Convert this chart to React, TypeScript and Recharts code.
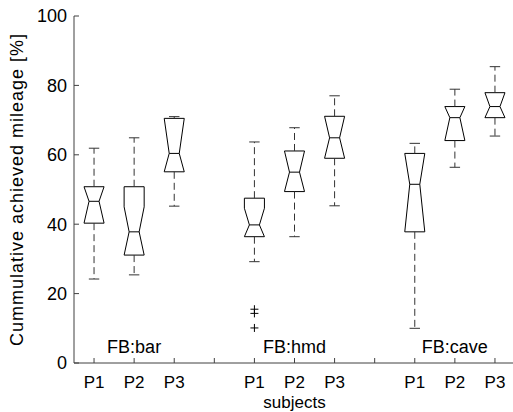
import React from 'react';
import { ComposedChart, XAxis, YAxis, Scatter, Label } from 'recharts';

// boxes: FB:bar P1-P3, FB:hmd P1-P3, FB:cave P1-P3
const groups = ['FB:bar', 'FB:hmd', 'FB:cave'];
const groupPos = [2, 6, 10];
const subjects = ['P1', 'P2', 'P3', 'P1', 'P2', 'P3', 'P1', 'P2', 'P3'];
const positions = [1, 2, 3, 5, 6, 7, 9, 10, 11];
const whiskerHigh = [61.9, 64.9, 71.0, 63.7, 67.8, 77.0, 63.3, 78.9, 85.4];
const q3 = [50.8, 50.8, 70.5, 47.5, 61.1, 71.1, 60.4, 73.9, 77.9];
const notchHigh = [50.8, 45.0, 70.5, 44.6, 61.1, 71.1, 60.4, 73.9, 77.9];
const median = [46.6, 37.8, 60.4, 39.8, 55.0, 64.9, 51.5, 70.7, 73.9];
const notchLow = [40.3, 31.1, 55.1, 36.4, 49.4, 59.0, 37.8, 64.1, 70.7];
const q1 = [40.3, 31.1, 55.1, 36.4, 49.4, 59.0, 37.8, 64.1, 70.7];
const whiskerLow = [24.2, 25.4, 45.2, 29.2, 36.4, 45.3, 10.0, 56.4, 65.4];
const outlierX = [5, 5, 5];
const outlierY = [15.5, 14.3, 10.1];
const yTicks = [0, 20, 40, 60, 80, 100];
const xTicks = [1, 2, 3, 4, 5, 6, 7, 8, 9, 10, 11];

const FONT = '"Liberation Sans", Arial, Helvetica, sans-serif';
const AXIS = '#404040';
const BOX_W = 0.25;
const NOTCH_W = 0.125;
const CAP_W = 0.13;

const boxOutline = (i: number) => {
  const x = positions[i];
  return [
    { x: x - BOX_W, y: q3[i] },
    { x: x + BOX_W, y: q3[i] },
    { x: x + BOX_W, y: notchHigh[i] },
    { x: x + NOTCH_W, y: median[i] },
    { x: x + BOX_W, y: notchLow[i] },
    { x: x + BOX_W, y: q1[i] },
    { x: x - BOX_W, y: q1[i] },
    { x: x - BOX_W, y: notchLow[i] },
    { x: x - NOTCH_W, y: median[i] },
    { x: x - BOX_W, y: notchHigh[i] },
    { x: x - BOX_W, y: q3[i] },
  ];
};

const noDot = () => <g />;

const LeftTick = (props: any) => {
  const { x, y, payload } = props;
  return (
    <g>
      <line x1={x + 7} x2={x + 12} y1={y} y2={y} stroke={AXIS} />
      <text x={x} y={y} dy="0.36em" textAnchor="end" fontSize={18} fontFamily={FONT} fill="#000">
        {payload.value}
      </text>
    </g>
  );
};

const RightTick = (props: any) => {
  const { x, y } = props;
  return <line x1={x - 5} x2={x} y1={y} y2={y} stroke={AXIS} />;
};

const TopTick = (props: any) => {
  const { x, y } = props;
  return <line x1={x} x2={x} y1={y} y2={y + 5} stroke={AXIS} />;
};

const BottomTick = (props: any) => {
  const { x, y, payload } = props;
  const idx = positions.indexOf(payload.value);
  return (
    <g>
      <line x1={x} x2={x} y1={y} y2={y - 5} stroke={AXIS} />
      <text x={x} y={y + 25} textAnchor="middle" fontSize={17} fontFamily={FONT} fill="#000">
        {idx >= 0 ? subjects[idx] : ''}
      </text>
    </g>
  );
};

const GroupText = (props: any) => {
  const { cx, cy, payload } = props;
  return (
    <text x={cx} y={cy} dy="0.36em" textAnchor="middle" fontSize={18} fontFamily={FONT} fill="#000">
      {payload.name}
    </text>
  );
};

const Plus = (props: any) => {
  const { cx, cy } = props;
  return (
    <g stroke="#000" strokeWidth={1}>
      <line x1={cx - 4} x2={cx + 4} y1={cy} y2={cy} />
      <line x1={cx} x2={cx} y1={cy - 4} y2={cy + 4} />
    </g>
  );
};

export default function App() {
  const lineStyle = { stroke: '#000', strokeWidth: 1 };
  const dashStyle = { stroke: '#333', strokeWidth: 1, strokeDasharray: '7 4' };
  const groupData = groups.map((name, i) => ({ x: groupPos[i], y: 4.7, name }));
  const outliers = outlierX.map((x, i) => ({ x, y: outlierY[i] }));

  return (
    <div style={{ position: 'absolute', left: 0, top: 0, width: 513, height: 412, overflow: 'hidden', background: '#fff' }}>
      <ComposedChart width={515} height={412} margin={{ top: 16, right: 0, bottom: 0, left: 0 }}>
        <XAxis
          xAxisId="b"
          type="number"
          dataKey="x"
          domain={[0.5, 11.5]}
          ticks={xTicks}
          orientation="bottom"
          height={49}
          tickSize={0}
          tickMargin={0}
          tick={<BottomTick />}
          axisLine={{ stroke: AXIS }}
          allowDataOverflow
        >
          <Label value="subjects" position="insideBottom" offset={4} fontSize={17} fontFamily={FONT} fill="#000" />
        </XAxis>
        <XAxis
          xAxisId="t"
          type="number"
          dataKey="x"
          domain={[0.5, 11.5]}
          ticks={xTicks}
          orientation="top"
          height={0}
          tickSize={0}
          tickMargin={0}
          tick={<TopTick />}
          axisLine={{ stroke: AXIS }}
        />
        <YAxis
          yAxisId="l"
          type="number"
          dataKey="y"
          domain={[0, 100]}
          ticks={yTicks}
          width={74}
          tickSize={0}
          tickMargin={7}
          tick={<LeftTick />}
          axisLine={{ stroke: AXIS }}
          allowDataOverflow
        >
          <Label
            value="Cummulative achieved mileage [%]"
            angle={-90}
            position="insideLeft"
            offset={17}
            style={{ textAnchor: 'middle', letterSpacing: 1 }}
            fontSize={18}
            fontFamily={FONT}
            fill="#000"
          />
        </YAxis>
        <YAxis
          yAxisId="r"
          type="number"
          dataKey="y"
          domain={[0, 100]}
          ticks={yTicks}
          orientation="right"
          width={0}
          tickSize={0}
          tickMargin={0}
          tick={<RightTick />}
          axisLine={{ stroke: AXIS }}
        />

        {positions.map((x, i) => (
          <Scatter
            key={`box-${i}`}
            xAxisId="b"
            yAxisId="l"
            data={boxOutline(i)}
            line={lineStyle}
            lineType="joint"
            shape={noDot}
            legendType="none"
            isAnimationActive={false}
          />
        ))}
        {positions.map((x, i) => (
          <Scatter
            key={`med-${i}`}
            xAxisId="b"
            yAxisId="l"
            data={[{ x: x - NOTCH_W, y: median[i] }, { x: x + NOTCH_W, y: median[i] }]}
            line={lineStyle}
            lineType="joint"
            shape={noDot}
            isAnimationActive={false}
          />
        ))}
        {positions.map((x, i) => (
          <Scatter
            key={`wh-${i}`}
            xAxisId="b"
            yAxisId="l"
            data={[{ x, y: q3[i] }, { x, y: whiskerHigh[i] }]}
            line={dashStyle}
            lineType="joint"
            shape={noDot}
            isAnimationActive={false}
          />
        ))}
        {positions.map((x, i) => (
          <Scatter
            key={`wl-${i}`}
            xAxisId="b"
            yAxisId="l"
            data={[{ x, y: q1[i] }, { x, y: whiskerLow[i] }]}
            line={dashStyle}
            lineType="joint"
            shape={noDot}
            isAnimationActive={false}
          />
        ))}
        {positions.map((x, i) => (
          <Scatter
            key={`ch-${i}`}
            xAxisId="b"
            yAxisId="l"
            data={[{ x: x - CAP_W, y: whiskerHigh[i] }, { x: x + CAP_W, y: whiskerHigh[i] }]}
            line={{ stroke: '#333', strokeWidth: 1 }}
            lineType="joint"
            shape={noDot}
            isAnimationActive={false}
          />
        ))}
        {positions.map((x, i) => (
          <Scatter
            key={`cl-${i}`}
            xAxisId="b"
            yAxisId="l"
            data={[{ x: x - CAP_W, y: whiskerLow[i] }, { x: x + CAP_W, y: whiskerLow[i] }]}
            line={{ stroke: '#333', strokeWidth: 1 }}
            lineType="joint"
            shape={noDot}
            isAnimationActive={false}
          />
        ))}
        <Scatter xAxisId="b" yAxisId="l" data={outliers} shape={<Plus />} isAnimationActive={false} />
        <Scatter xAxisId="b" yAxisId="l" data={groupData} shape={<GroupText />} isAnimationActive={false} />
      </ComposedChart>
    </div>
  );
}
